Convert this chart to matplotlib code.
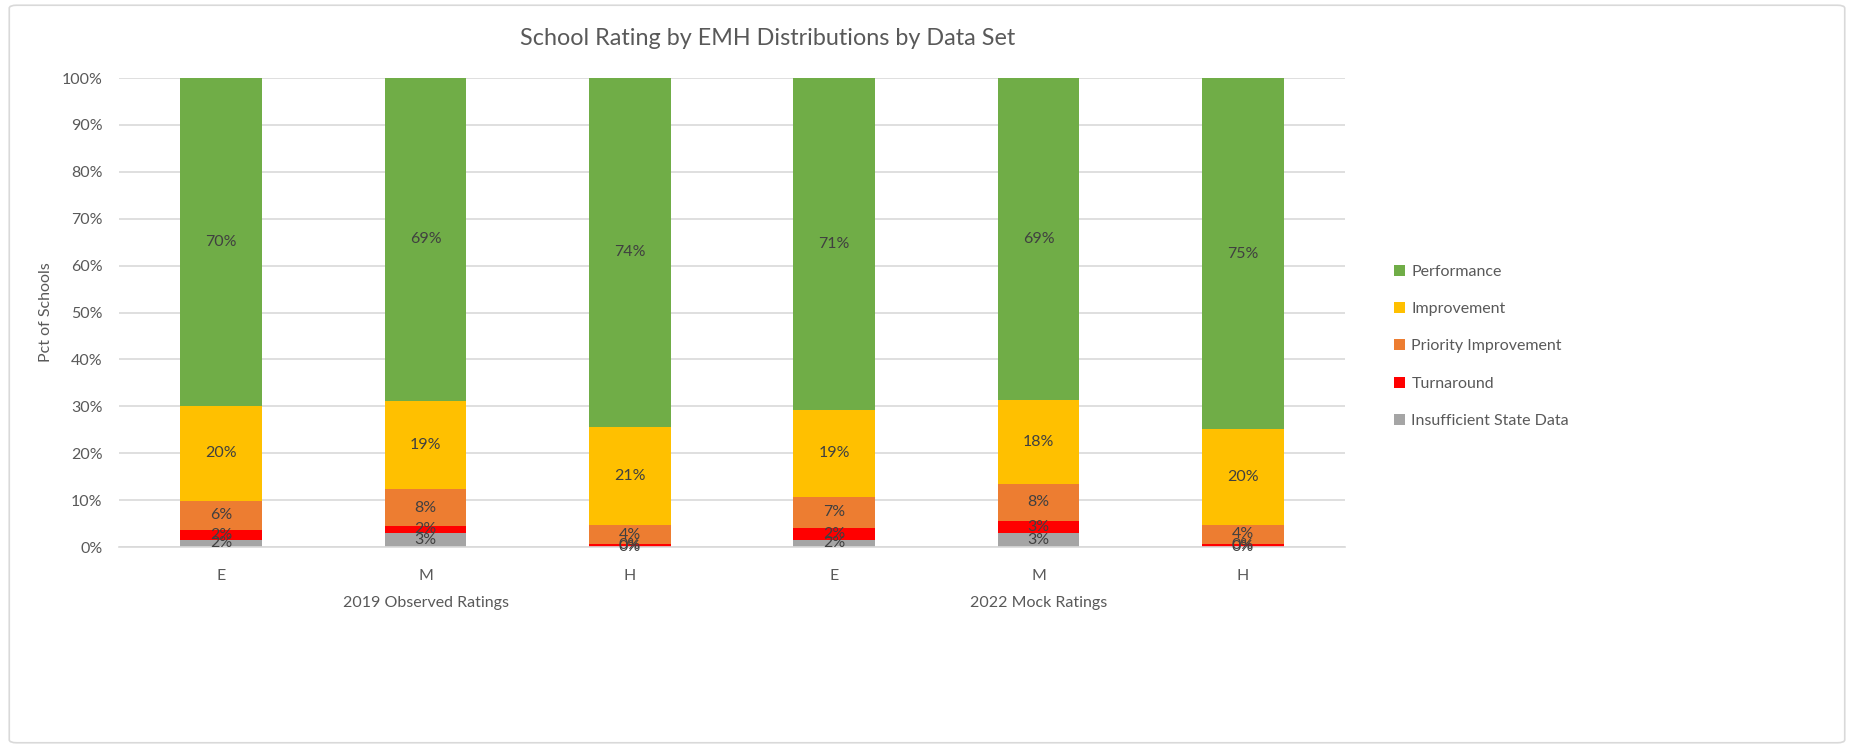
import matplotlib.pyplot as plt
from matplotlib.patches import FancyBboxPatch
import numpy as np

plt.rcParams['font.family'] = ['Lato', 'DejaVu Sans']

# data (percent of schools)
levels = ["E", "M", "H", "E", "M", "H"]
data_sets = ["2019 Observed Ratings", "2022 Mock Ratings"]
series = ["Insufficient State Data", "Turnaround", "Priority Improvement",
          "Improvement", "Performance"]
insufficient = [1.6, 3.0, 0.1, 1.6, 3.0, 0.1]
turnaround = [2.1, 1.5, 0.5, 2.5, 2.6, 0.5]
priority = [6.2, 7.8, 4.1, 6.6, 7.9, 4.2]
improvement = [20.1, 18.9, 20.9, 18.6, 17.9, 20.3]
performance = [70.0, 68.8, 74.4, 70.7, 68.6, 74.9]
colors = ["#A5A5A5", "#FF0000", "#ED7D31", "#FFC000", "#70AD47"]

fig = plt.figure(figsize=(18.54, 7.48), dpi=100)
ax = fig.add_axes([0.0642, 0.2687, 0.6613, 0.627])

# chart border
fig.patches.append(FancyBboxPatch((0.005, 0.007), 0.99, 0.986,
                                  boxstyle="round,pad=0,rounding_size=0.004",
                                  transform=fig.transFigure, fill=False,
                                  edgecolor="#D9D9D9", linewidth=1.2))

x = np.arange(len(levels))
bottom = np.zeros(len(levels))
handles = []
for name, vals, col in zip(series, [insufficient, turnaround, priority,
                                    improvement, performance], colors):
    vals = np.array(vals)
    bars = ax.bar(x, vals, 0.4, bottom=bottom, color=col, label=name, zorder=2)
    handles.append(bars)
    for xi, b, v in zip(x, bottom, vals):
        ax.text(xi, b + v / 2, f"{v:.0f}%", ha="center", va="center",
                fontsize=11.5, color="#404040", zorder=3)
    bottom += vals

ax.set_xlim(-0.5, len(levels) - 0.5)
ax.set_ylim(0, 100)
ax.set_yticks(np.arange(0, 101, 10))
ax.set_yticklabels([f"{t}%" for t in range(0, 101, 10)])
ax.set_xticks(x)
ax.set_xticklabels(levels)
ax.tick_params(axis="both", length=0, labelsize=11.5, colors="#595959")
ax.tick_params(axis="y", pad=12)
ax.tick_params(axis="x", pad=16)
ax.grid(axis="y", color="#D9D9D9", linewidth=1.2, zorder=0)
for s in ["top", "right", "left"]:
    ax.spines[s].set_visible(False)
ax.spines["bottom"].set_color("#D9D9D9")
ax.spines["bottom"].set_linewidth(1.2)

for i, name in enumerate(data_sets):
    ax.text(np.mean(x[i * 3:(i + 1) * 3]), -0.12, name, ha="center", va="center",
            fontsize=11.5, color="#595959", transform=ax.get_xaxis_transform())

ax.set_ylabel("Pct of Schools", fontsize=11.5, color="#595959", labelpad=6)
fig.text(0.414, 0.948, "School Rating by EMH Distributions by Data Set",
         ha="center", va="center", fontsize=16.8, color="#595959")

leg = ax.legend(handles[::-1], series[::-1], loc="center left",
                bbox_to_anchor=(0.744, 0.537), bbox_transform=fig.transFigure,
                frameon=False, fontsize=11.5, handlelength=0.7, handleheight=0.7,
                handletextpad=0.4, labelspacing=1.45)
for t in leg.get_texts():
    t.set_color("#595959")

fig.savefig("out.png", dpi=100)
